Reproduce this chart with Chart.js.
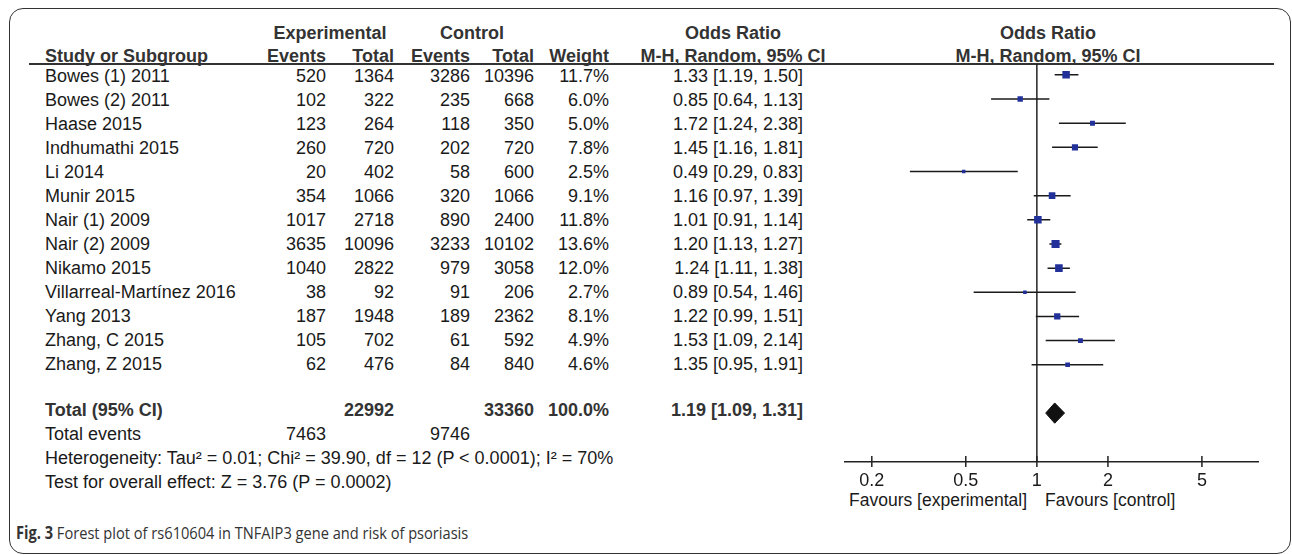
<!DOCTYPE html>
<html>
<head>
<meta charset="utf-8">
<script src="https://cdn.jsdelivr.net/npm/chart.js@4.4.1/dist/chart.umd.min.js"></script>
<style>
  body { margin: 0; background: #fff; width: 1292px; height: 555px; overflow: hidden; position: relative;
         font-family: "Liberation Sans", Arial, sans-serif; color: #1a1a1a; }
  .frame { position: absolute; left: 9px; top: 8px; width: 1282px; height: 546px;
           border: 1.5px solid #333; border-radius: 14px; box-sizing: border-box; }
  .t { position: absolute; font-size: 18px; line-height: 22px; white-space: nowrap; }
  .r { text-align: right; }
  .c { text-align: center; }
  .b { font-weight: bold; color: #333; }
  .s { font-size: 17.5px; }
  .rule { position: absolute; left: 29px; width: 1245px; top: 63px; height: 1.5px; background: #333; }
  #plot { position: absolute; left: 800px; top: 40px; }
  .cap { position: absolute; left: 16px; top: 521px; font-family: "Open Sans", sans-serif; font-size: 17px;
         color: #333; white-space: nowrap; transform: scaleX(0.86); transform-origin: left center; }
</style>
</head>
<body>
<div class="frame"></div>
<div class="rule"></div>
<div id="tbl"></div>
<canvas id="plot" width="480" height="461"></canvas>
<div class="cap"><b>Fig. 3</b> Forest plot of rs610604 in TNFAIP3 gene and risk of psoriasis</div>

<script>
// 数据
const studies = ['Bowes (1) 2011', 'Bowes (2) 2011', 'Haase 2015', 'Indhumathi 2015', 'Li 2014', 'Munir 2015',
  'Nair (1) 2009', 'Nair (2) 2009', 'Nikamo 2015', 'Villarreal-Martínez 2016', 'Yang 2013', 'Zhang, C 2015', 'Zhang, Z 2015'];
const expEvents = [520, 102, 123, 260, 20, 354, 1017, 3635, 1040, 38, 187, 105, 62];
const expTotal = [1364, 322, 264, 720, 402, 1066, 2718, 10096, 2822, 92, 1948, 702, 476];
const ctlEvents = [3286, 235, 118, 202, 58, 320, 890, 3233, 979, 91, 189, 61, 84];
const ctlTotal = [10396, 668, 350, 720, 600, 1066, 2400, 10102, 3058, 206, 2362, 592, 840];
const weights = [11.7, 6.0, 5.0, 7.8, 2.5, 9.1, 11.8, 13.6, 12.0, 2.7, 8.1, 4.9, 4.6];
const oddsRatio = [1.33, 0.85, 1.72, 1.45, 0.49, 1.16, 1.01, 1.20, 1.24, 0.89, 1.22, 1.53, 1.35];
const ciLow = [1.19, 0.64, 1.24, 1.16, 0.29, 0.97, 0.91, 1.13, 1.11, 0.54, 0.99, 1.09, 0.95];
const ciHigh = [1.50, 1.13, 2.38, 1.81, 0.83, 1.39, 1.14, 1.27, 1.38, 1.46, 1.51, 2.14, 1.91];
const total = { expTotal: 22992, ctlTotal: 33360, expEvents: 7463, ctlEvents: 9746, or: 1.19, lo: 1.09, hi: 1.31 };
const tickVals = [0.2, 0.5, 1, 2, 5];

// 表格文字
const tbl = document.getElementById('tbl');
function cell(text, x, y, cls) {
  const d = document.createElement('div');
  d.className = 't ' + (cls || '');
  d.textContent = text;
  const c = ' ' + (cls || '') + ' ';
  if (c.indexOf(' r ') >= 0) { d.style.left = (x - 300) + 'px'; d.style.width = '300px'; }
  else if (c.indexOf(' c ') >= 0) { d.style.left = (x - 150) + 'px'; d.style.width = '300px'; }
  else d.style.left = x + 'px';
  d.style.top = (y - 11) + 'px';
  tbl.appendChild(d);
}
const colX = { ev1: 326, tot1: 394, ev2: 470, tot2: 534, wt: 609, or: 803 };
const labelX = 45;
const rowY = i => 76 + 24 * i;
const fmtCI = (o, l, h) => o.toFixed(2) + ' [' + l.toFixed(2) + ', ' + h.toFixed(2) + ']';

cell('Experimental', 330, 33, 'c b');
cell('Control', 472, 33, 'c b');
cell('Odds Ratio', 733, 33, 'c b');
cell('Odds Ratio', 1048, 33, 'c b');
cell('Study or Subgroup', labelX, 56, 'b');
cell('Events', colX.ev1, 56, 'r b');
cell('Total', colX.tot1, 56, 'r b');
cell('Events', colX.ev2, 56, 'r b');
cell('Total', colX.tot2, 56, 'r b');
cell('Weight', colX.wt, 56, 'r b');
cell('M-H, Random, 95% CI', 733, 56, 'c b');
cell('M-H, Random, 95% CI', 1048, 56, 'c b');

studies.forEach((s, i) => {
  const y = rowY(i);
  cell(s, labelX, y);
  cell(String(expEvents[i]), colX.ev1, y, 'r');
  cell(String(expTotal[i]), colX.tot1, y, 'r');
  cell(String(ctlEvents[i]), colX.ev2, y, 'r');
  cell(String(ctlTotal[i]), colX.tot2, y, 'r');
  cell(weights[i].toFixed(1) + '%', colX.wt, y, 'r');
  cell(fmtCI(oddsRatio[i], ciLow[i], ciHigh[i]), colX.or, y, 'r');
});

cell('Total (95% CI)', labelX, 410, 'b');
cell(String(total.expTotal), colX.tot1, 410, 'r b');
cell(String(total.ctlTotal), colX.tot2, 410, 'r b');
cell('100.0%', colX.wt, 410, 'r b');
cell(fmtCI(total.or, total.lo, total.hi), colX.or, 410, 'r b');
cell('Total events', labelX, 434);
cell(String(total.expEvents), colX.ev1, 434, 'r');
cell(String(total.ctlEvents), colX.ev2, 434, 'r');
cell('Heterogeneity: Tau² = 0.01; Chi² = 39.90, df = 12 (P < 0.0001); I² = 70%', labelX, 458);
cell('Test for overall effect: Z = 3.76 (P = 0.0002)', labelX, 482);
cell('Favours [experimental]', 1027, 500, 'r s');
cell('Favours [control]', 1045, 500, 's');

// 森林图
const yTop = -0.45, yBottom = 16, totalRow = 14;
const datasets = [];
datasets.push({
  data: oddsRatio.map((v, i) => ({ x: v, y: i })),
  pointStyle: 'rect',
  pointRadius: weights.map(w => 1.55 * Math.sqrt(w)),
  backgroundColor: '#22309a',
  borderColor: '#22309a',
  borderWidth: 0
});
datasets.push({
  data: [{ x: total.lo, y: totalRow }, { x: total.or, y: totalRow - 0.42 }, { x: total.hi, y: totalRow },
         { x: total.or, y: totalRow + 0.42 }, { x: total.lo, y: totalRow }],
  showLine: true, fill: 'shape', backgroundColor: '#111', borderColor: '#111', borderWidth: 1, pointRadius: 0
});
oddsRatio.forEach((v, i) => {
  datasets.push({
    data: [{ x: ciLow[i], y: i }, { x: ciHigh[i], y: i }],
    showLine: true, borderColor: '#1a1a1a', borderWidth: 1.5, pointRadius: 0
  });
});
datasets.push({
  data: [{ x: 1, y: yTop }, { x: 1, y: yBottom }],
  showLine: true, borderColor: '#222', borderWidth: 1.5, pointRadius: 0
});
datasets.push({
  data: tickVals.map(v => ({ x: v, y: yBottom })),
  pointStyle: 'line', rotation: 90, pointRadius: 5.5, borderColor: '#222', borderWidth: 1.5, clip: false
});

new Chart(document.getElementById('plot'), {
  type: 'scatter',
  data: { datasets: datasets },
  options: {
    responsive: false,
    animation: false,
    events: [],
    layout: { padding: { left: 45, right: 22, top: 24, bottom: 0 } },
    plugins: { legend: { display: false }, tooltip: { enabled: false } },
    scales: {
      x: {
        type: 'logarithmic',
        min: 0.154, max: 8.64,
        afterBuildTicks: scale => { scale.ticks = tickVals.map(v => ({ value: v })); },
        ticks: { color: '#1a1a1a', font: { family: 'Liberation Sans', size: 18 }, padding: 9,
                 callback: v => String(v), autoSkip: false, maxRotation: 0 },
        grid: { display: false, drawTicks: false },
        border: { display: true, color: '#222', width: 1.5 }
      },
      y: { display: false, reverse: true, min: yTop, max: yBottom }
    }
  }
});
</script>
</body>
</html>
